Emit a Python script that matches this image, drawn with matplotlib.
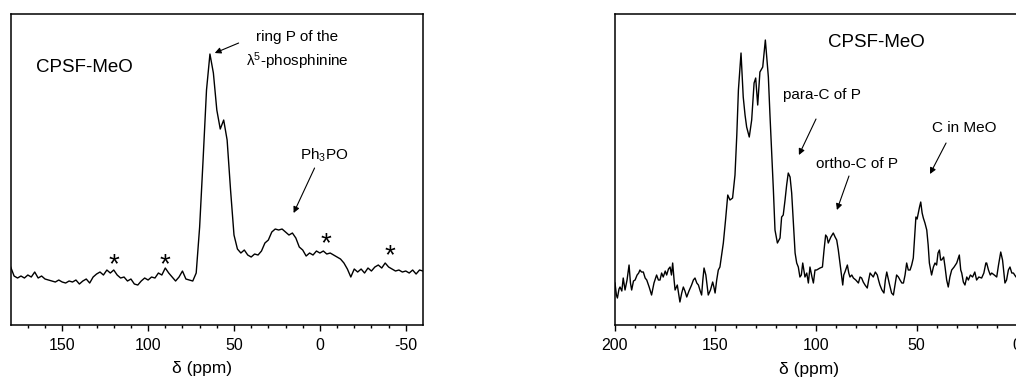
import matplotlib
matplotlib.use("Agg")
import matplotlib.pyplot as plt

plt.rcParams['font.family'] = ['Liberation Sans', 'DejaVu Sans']
plt.rcParams['axes.unicode_minus'] = False

# 31P spectrum (left): ppm and intensity
p_ppm = [180, 178, 176, 174, 172, 170, 168, 166, 164, 162, 160, 158, 156, 154, 152,
         150, 148, 146, 144, 142, 140, 138, 136, 134, 132, 130, 128, 126, 124, 122,
         120, 118, 116, 114, 112, 110, 108, 106, 104, 102, 100, 98, 96, 94, 92,
         90, 88, 86, 84, 82, 80, 78, 76, 74, 72, 70, 68, 66, 64, 62,
         60, 58, 56, 54, 52, 50, 48, 46, 44, 42, 40, 38, 36, 34, 32,
         30, 28, 26, 24, 22, 20, 18, 16, 14, 12, 10, 8, 6, 4, 2,
         0, -2, -4, -6, -8, -10, -12, -14, -16, -18, -20, -22, -24, -26, -28,
         -30, -32, -34, -36, -38, -40, -42, -44, -46, -48, -50, -52, -54, -56, -58, -60]
p_int = [58, 49, 47, 49, 47, 50, 48, 53, 47, 49, 46, 45, 44, 43, 45,
         43, 42, 44, 43, 45, 41, 44, 46, 42, 48, 51, 53, 50, 55, 52,
         55, 50, 47, 48, 44, 46, 41, 40, 44, 47, 45, 48, 47, 52, 50,
         57, 52, 48, 44, 48, 54, 46, 45, 44, 52, 98, 165, 235, 271, 252,
         215, 196, 205, 185, 135, 90, 76, 72, 75, 70, 68, 71, 70, 74, 82,
         85, 93, 96, 95, 96, 93, 90, 92, 87, 78, 75, 69, 72, 70, 74,
         72, 74, 71, 72, 70, 68, 66, 62, 56, 48, 56, 53, 56, 52, 57,
         54, 58, 60, 57, 62, 58, 56, 54, 55, 53, 54, 52, 55, 51, 55, 54]

# 13C spectrum (right)
c_ppm = [200.0, 199.3, 198.8, 198.0, 197.5, 196.6, 195.9, 195.0, 194.0, 193.0,
         192.3, 191.7, 190.8, 190.0, 189.0, 188.2, 187.6, 186.8, 185.9, 185.0,
         184.2, 183.0, 181.8, 180.6, 179.3, 178.4, 177.6, 176.8, 176.0, 175.0,
         174.3, 173.4, 172.6, 171.9, 171.3, 170.6, 170.1, 169.0, 167.7, 166.8,
         166.0, 165.2, 164.3, 163.2, 161.9, 161.0, 160.2, 159.3, 158.5, 157.6,
         156.9, 156.3, 155.7, 154.8, 153.6, 152.5, 151.4, 150.8, 150.2, 149.4,
         148.6, 147.8, 146.1, 145.0, 143.9, 142.8, 141.5, 140.3, 139.4, 138.6,
         137.3, 136.2, 135.3, 134.5, 133.2, 132.0, 130.8, 130.0, 129.0, 127.9,
         126.5, 125.2, 124.4, 123.7, 122.9, 122.1, 121.2, 120.4, 119.2, 117.9,
         117.1, 116.3, 115.4, 114.6, 113.8, 112.9, 112.1, 111.2, 110.4, 109.6,
         108.8, 108.0, 107.3, 106.6, 105.5, 104.6, 103.8, 103.0, 102.0, 101.3,
         100.5, 99.7, 98.0, 96.8, 96.0, 95.2, 94.5, 93.9, 92.6, 91.4,
         90.5, 89.7, 88.9, 88.1, 87.4, 86.7, 86.2, 85.6, 84.4, 83.7,
         83.1, 82.2, 81.4, 80.2, 78.9, 78.1, 77.3, 76.5, 75.6, 74.5,
         73.8, 73.1, 72.3, 71.5, 70.5, 69.5, 68.9, 68.2, 67.2, 66.2,
         65.5, 64.8, 63.6, 62.4, 61.5, 60.7, 59.9, 59.0, 58.2, 57.3,
         56.5, 55.7, 54.9, 54.1, 53.2, 52.4, 51.6, 50.9, 50.3, 49.7,
         49.1, 48.5, 47.9, 47.2, 46.6, 45.8, 44.9, 44.2, 43.6, 42.5,
         41.6, 40.8, 40.0, 39.3, 38.6, 38.0, 37.5, 36.5, 35.8, 35.0,
         34.2, 33.4, 32.5, 31.3, 30.0, 28.7, 28.0, 27.5, 26.7, 25.9,
         25.0, 24.2, 23.2, 22.1, 21.0, 20.1, 19.0, 17.6, 16.5, 15.5,
         15.1, 14.2, 13.3, 12.6, 11.3, 10.1, 9.2, 8.1, 7.2, 6.0,
         5.2, 4.3, 3.5, 2.6, 1.8, 0.5, 0.0]
c_int = [42, 30, 27, 36, 38, 34, 47, 35, 45, 60,
         42, 35, 44, 45, 50, 52, 55, 53, 53, 47,
         45, 38, 30, 42, 50, 45, 45, 52, 48, 54,
         50, 56, 58, 50, 62, 45, 35, 40, 23, 32,
         38, 34, 28, 34, 40, 45, 47, 42, 40, 34,
         30, 45, 57, 50, 30, 35, 43, 38, 32, 45,
         55, 58, 82, 105, 130, 125, 127, 150, 190, 235,
         272, 228, 210, 198, 188, 205, 242, 247, 220, 253,
         258, 285, 265, 248, 210, 175, 135, 95, 82, 87,
         108, 110, 125, 140, 152, 148, 132, 100, 72, 62,
         58, 48, 50, 62, 48, 52, 42, 58, 48, 42,
         55, 55, 57, 58, 75, 90, 88, 82, 88, 92,
         88, 85, 75, 62, 50, 40, 50, 53, 60, 52,
         48, 50, 47, 45, 42, 48, 47, 43, 40, 37,
         45, 52, 50, 48, 53, 50, 45, 40, 35, 32,
         45, 53, 42, 32, 30, 40, 50, 48, 45, 42,
         42, 50, 62, 55, 55, 60, 67, 90, 108, 106,
         112, 118, 123, 112, 107, 102, 95, 80, 62, 50,
         58, 62, 60, 72, 75, 65, 65, 68, 58, 45,
         38, 48, 55, 58, 62, 70, 55, 52, 43, 40,
         48, 45, 50, 48, 53, 45, 48, 47, 52, 62,
         62, 55, 50, 52, 50, 48, 60, 73, 65, 42,
         45, 55, 58, 52, 52, 48, 50]

star_ppm = [120, 90.5, -3.5, -40.5]
star_int = [60, 60, 81, 69]

fig = plt.figure(figsize=(10.16, 3.8), dpi=100)
ax1 = fig.add_axes([0.0105, 0.1447, 0.4058, 0.8184])
ax2 = fig.add_axes([0.6053, 0.1447, 0.3957, 0.8184])

for ax in (ax1, ax2):
    ax.set_ylim(0, 311)
    ax.set_yticks([])
    for s in ax.spines.values():
        s.set_linewidth(1.1)
    ax.tick_params(axis='x', which='major', direction='out', length=4, width=1,
                   labelsize=11.5, pad=5)
    ax.tick_params(axis='x', which='minor', direction='out', length=2.5, width=1)
    ax.set_xlabel('δ (ppm)', fontsize=12.5)

arrow = dict(arrowstyle='-|>', lw=0.8, color='black', mutation_scale=9,
             shrinkA=0, shrinkB=0)

# left: 31P
ax1.plot(p_ppm, p_int, color='black', lw=1.0)
ax1.set_xlim(180, -60)
ax1.set_xticks([150, 100, 50, 0, -50])
ax1.set_xticks(range(170, -60, -10), minor=True)
ax1.xaxis.set_label_coords(0.464, -0.115)
ax1.text(137, 258, 'CPSF-MeO', fontsize=13.5, ha='center', va='center')
ax1.annotate('', xy=(61.2, 272), xytext=(47.3, 282), arrowprops=arrow)
ax1.text(13, 274, 'ring P of the\nλ$\\mathregular{^5}$-phosphinine', fontsize=11,
         ha='center', va='center', linespacing=1.4)
ax1.text(-2.7, 170, 'Ph$\\mathregular{_3}$PO', fontsize=11, ha='center', va='center')
ax1.annotate('', xy=(15.3, 112), xytext=(3.1, 157), arrowprops=arrow)
for x, y in zip(star_ppm, star_int):
    ax1.text(x, y, '*', fontsize=20, ha='center', va='center')

# right: 13C
ax2.plot(c_ppm, c_int, color='black', lw=1.0)
ax2.set_xlim(200, 0)
ax2.set_xticks([200, 150, 100, 50, 0])
ax2.set_xticks(range(190, 0, -10), minor=True)
ax2.xaxis.set_label_coords(0.483, -0.12)
ax2.text(70, 283, 'CPSF-MeO', fontsize=13.5, ha='center', va='center')
ax2.text(97, 230, 'para-C of P', fontsize=11, ha='center', va='center')
ax2.annotate('', xy=(108.5, 170), xytext=(100, 206), arrowprops=arrow)
ax2.text(79.6, 161, 'ortho-C of P', fontsize=11, ha='center', va='center')
ax2.annotate('', xy=(89.6, 115), xytext=(83.6, 149), arrowprops=arrow)
ax2.text(26.4, 197, 'C in MeO', fontsize=11, ha='center', va='center')
ax2.annotate('', xy=(43.3, 151), xytext=(35.3, 182), arrowprops=arrow)

fig.savefig('out.png', dpi=100)
